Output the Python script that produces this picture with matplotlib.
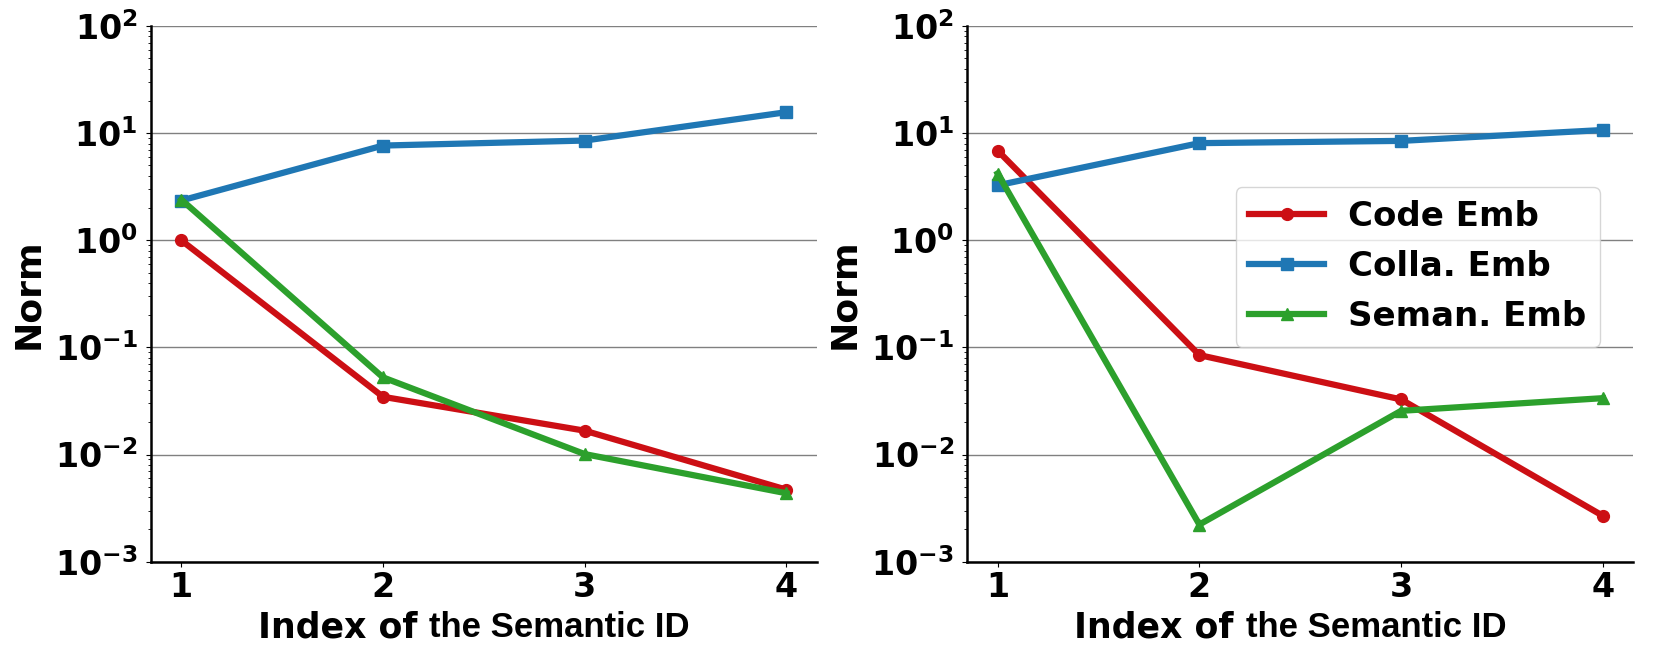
import numpy as np
import matplotlib
matplotlib.use("Agg")
import matplotlib.pyplot as plt
from matplotlib.offsetbox import TextArea, HPacker, AnchoredOffsetbox

plt.rcParams['font.family'] = ['DejaVu Sans']
plt.rcParams['font.weight'] = 'bold'
plt.rcParams['axes.labelweight'] = 'bold'

idx = [1, 2, 3, 4]
labels = ["Code Emb", "Colla. Emb", "Seman. Emb"]

left_code = [1.0, 0.0346, 0.0167, 0.0047]
left_colla = [2.35, 7.66, 8.53, 15.7]
left_seman = [2.4, 0.0525, 0.0101, 0.00435]

right_code = [6.88, 0.0848, 0.0327, 0.00268]
right_colla = [3.26, 8.07, 8.47, 10.7]
right_seman = [4.2, 0.00222, 0.0256, 0.0336]

colors = ['#cc0f14', '#1f77b4', '#2ca02c']
markers = ['o', 's', '^']

fig = plt.figure(figsize=(16.61, 6.64), dpi=100)
ax1 = fig.add_axes([0.0909, 0.1541, 0.4008, 0.8067])
ax2 = fig.add_axes([0.5824, 0.1541, 0.4008, 0.8067])


def draw(ax, series):
    for vals, c, m, lab in zip(series, colors, markers, labels):
        ax.plot(idx, vals, color=c, marker=m, lw=4.5, ms=8.5, label=lab)
    ax.set_yscale('log')
    ax.set_ylim(1e-3, 1e2)
    ax.set_xlim(0.85, 4.15)
    ax.set_xticks(idx)
    ax.grid(axis='y', which='major', color='gray', lw=1)
    ax.set_axisbelow(True)
    for s in ['top', 'right']:
        ax.spines[s].set_visible(False)
    for s in ['left', 'bottom']:
        ax.spines[s].set_linewidth(1.8)
    ax.tick_params(labelsize=24)
    ax.tick_params(axis='x', pad=3)
    ax.tick_params(axis='y', pad=6)
    ax.set_ylabel("Norm", fontsize=26, fontweight='bold', labelpad=7)
    # x label: mixed fonts as in the original figure
    t1 = TextArea("Index of ", textprops=dict(fontsize=25, fontweight='bold', family='DejaVu Sans'))
    t2 = TextArea("the Semantic ID", textprops=dict(fontsize=25, fontweight='bold', family='Liberation Sans'))
    box = HPacker(children=[t1, t2], align='baseline', pad=0, sep=0)
    ab = AnchoredOffsetbox(loc='upper center', child=box, pad=0, borderpad=0, frameon=False,
                           bbox_to_anchor=(0.485, -0.091), bbox_transform=ax.transAxes)
    ax.add_artist(ab)


draw(ax1, [left_code, left_colla, left_seman])
draw(ax2, [right_code, right_colla, right_seman])

ax2.legend(loc='upper right', bbox_to_anchor=(0.95, 0.70), borderaxespad=0,
           fontsize=24.5, handlelength=2.2, handletextpad=0.7, labelspacing=0.5)

fig.savefig("out.png", dpi=100)
